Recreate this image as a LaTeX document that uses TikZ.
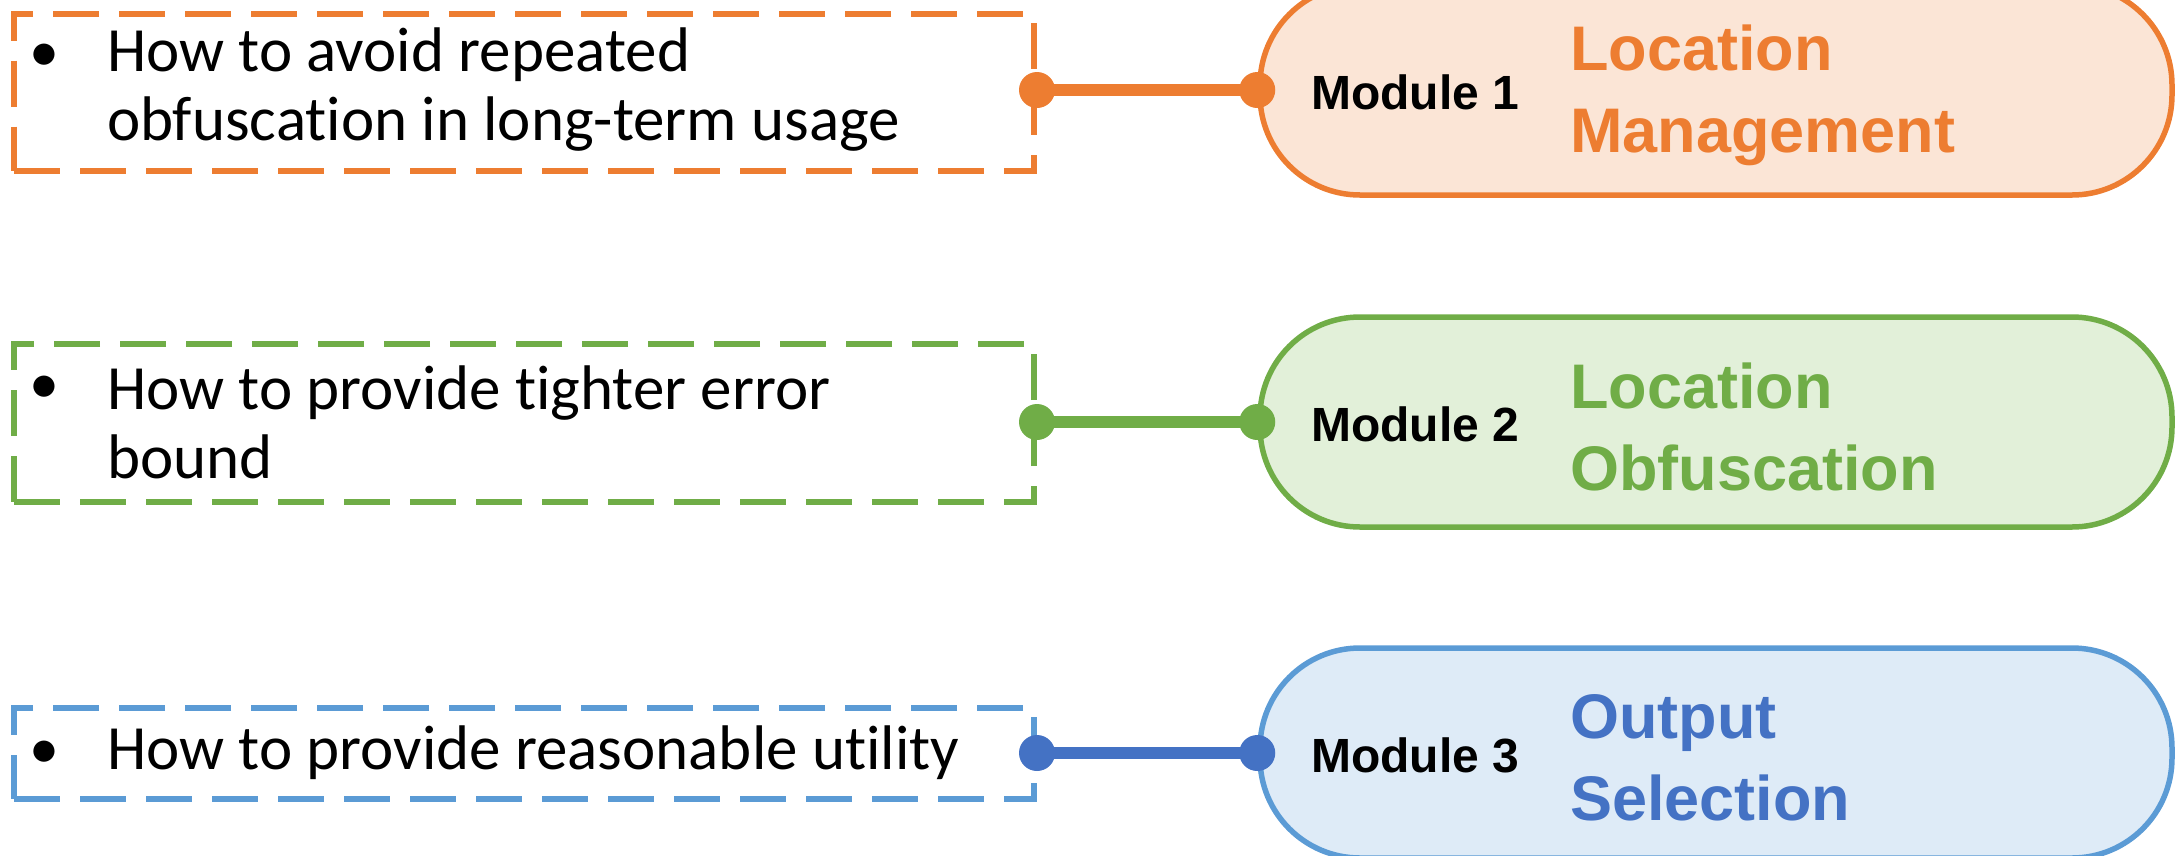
\documentclass[tikz,border=0pt]{standalone}
\usepackage{fontspec}
\setmainfont{Carlito}[Ligatures={NoCommon}]
\newfontfamily\arialfont{Liberation Sans}
\definecolor{orangeA}{HTML}{ED7D31}
\definecolor{orangeF}{HTML}{FBE5D6}
\definecolor{greenA}{HTML}{70AD47}
\definecolor{greenF}{HTML}{E2F0D9}
\definecolor{blueA}{HTML}{4472C4}
\definecolor{blueB}{HTML}{5B9BD5}
\definecolor{blueF}{HTML}{DEEBF7}
\tikzset{
  qbox/.style={draw=#1, line width=6pt, dash pattern=on 46pt off 20pt,
    minimum width=1020pt, inner sep=0pt},
  qtext/.style={anchor=west, align=left, inner sep=0pt,
    font=\fontsize{63}{69}\selectfont},
  bulletmark/.style={inner sep=0pt, font=\fontsize{60}{69}\selectfont},
  pill/.style={draw=#1, line width=5.5pt, rounded corners=100pt,
    minimum width=912pt, minimum height=210pt, inner sep=0pt},
  modlabel/.style={anchor=west, inner sep=0pt,
    font=\arialfont\bfseries\fontsize{48}{58}\selectfont},
  modtitle/.style={anchor=west, align=left, inner sep=0pt, text=#1,
    font=\arialfont\bfseries\fontsize{63}{82}\selectfont},
  link/.style={draw=#1, line width=12pt},
  linkdot/.style={circle, fill=#1, minimum size=36pt, inner sep=0pt}
}
\begin{document}
\begin{tikzpicture}[x=1pt,y=-1pt]
  \useasboundingbox (0,0) rectangle (2176,855);
  \clip (0,0) rectangle (2176,855);

  % ---- question boxes ----
  \node[qbox=orangeA, minimum height=157pt] (q1) at (524,92) {};
  \node[bulletmark] (q1b) at (44,58) {•};
  \node[qtext] (q1t) at (107,90) {How to avoid repeated\\obfuscation in long-term usage};

  \node[qbox=greenA, minimum height=158pt] (q2) at (524,423) {};
  \node[bulletmark] (q2b) at (44,390) {•};
  \node[qtext] (q2t) at (107,422) {How to provide tighter error\\bound};

  \node[qbox=blueB, minimum height=91pt] (q3) at (524,753.5) {};
  \node[bulletmark] (q3b) at (44,755) {•};
  \node[qtext] (q3t) at (107,753) {How to provide reasonable utility};

  % ---- module pills ----
  \node[pill=orangeA, fill=orangeF] (m1) at (1716,90) {};
  \node[modlabel] (m1l) at (1311,92) {Module 1};
  \node[modtitle=orangeA] (m1t) at (1570,95) {Location\\Management};

  \node[pill=greenA, fill=greenF] (m2) at (1716,422) {};
  \node[modlabel] (m2l) at (1311,424) {Module 2};
  \node[modtitle=greenA] (m2t) at (1570,427) {Location\\Obfuscation};

  \node[pill=blueB, fill=blueF] (m3) at (1716,753) {};
  \node[modlabel] (m3l) at (1311,755) {Module 3};
  \node[modtitle=blueA] (m3t) at (1570,758) {Output\\Selection};

  % ---- connectors ----
  \coordinate (c1a) at (q1.east |- m1.west);
  \coordinate (c2a) at (q2.east |- m2.west);
  \coordinate (c3a) at (q3.east |- m3.west);
  \draw[link=orangeA] (c1a) -- (m1.west);
  \draw[link=greenA] (c2a) -- (m2.west);
  \draw[link=blueA] (c3a) -- (m3.west);
  \node[linkdot=orangeA] (d1a) at (c1a) {};
  \node[linkdot=orangeA] (d1b) at (m1.west) {};
  \node[linkdot=greenA] (d2a) at (c2a) {};
  \node[linkdot=greenA] (d2b) at (m2.west) {};
  \node[linkdot=blueA] (d3a) at (c3a) {};
  \node[linkdot=blueA] (d3b) at (m3.west) {};
\end{tikzpicture}
\end{document}
